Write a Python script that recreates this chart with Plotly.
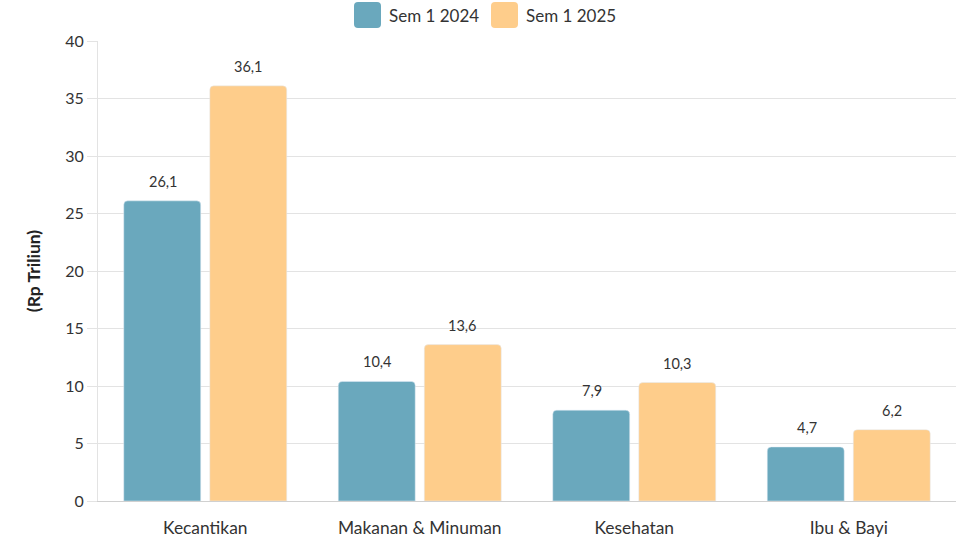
import plotly.graph_objects as go

categories = ["Kecantikan", "Makanan & Minuman", "Kesehatan", "Ibu & Bayi"]
sem2024 = [26.1, 10.4, 7.9, 4.7]
sem2025 = [36.1, 13.6, 10.3, 6.2]
series_names = ["Sem 1 2024", "Sem 1 2025"]
y_ticks = [0, 5, 10, 15, 20, 25, 30, 35, 40]

FONT = "Lato"
colors = ["#6aa8bd", "#fecd8b"]
W, H = 968, 543
ML, MR, MT, MB = 98, 12, 41, 42
PW, PH = W - ML - MR, H - MT - MB

def fmt(v):
    return f"{v:.1f}".replace(".", ",")

def px_x(px):
    return (px - ML) / PW

def px_y(py):
    return (H - MB - py) / PH

fig = go.Figure()
for name, vals, col in zip(series_names, [sem2024, sem2025], colors):
    fig.add_trace(go.Bar(
        x=categories, y=vals, name=name, marker_color=col,
        showlegend=False,
    ))

# value labels above bars
for vals, shift in zip([sem2024, sem2025], [-42, 43]):
    for c, v in zip(categories, vals):
        fig.add_annotation(x=c, y=v, xref="x", yref="y", text=fmt(v),
                           showarrow=False, xshift=shift, yanchor="bottom", yshift=9,
                           font=dict(size=14.5, color="#333333", family=FONT))

# custom legend with large rounded swatches
def rounded_rect(x0, y0, x1, y1, r):
    X = lambda p: px_x(p)
    Y = lambda p: px_y(p)
    return (f"M {X(x0+r)},{Y(y0)} L {X(x1-r)},{Y(y0)} Q {X(x1)},{Y(y0)} {X(x1)},{Y(y0+r)} "
            f"L {X(x1)},{Y(y1-r)} Q {X(x1)},{Y(y1)} {X(x1-r)},{Y(y1)} "
            f"L {X(x0+r)},{Y(y1)} Q {X(x0)},{Y(y1)} {X(x0)},{Y(y1-r)} "
            f"L {X(x0)},{Y(y0+r)} Q {X(x0)},{Y(y0)} {X(x0+r)},{Y(y0)} Z")

legend_x = [354, 491]
for name, col, lx in zip(series_names, colors, legend_x):
    fig.add_shape(type="path", path=rounded_rect(lx, 2, lx + 27, 28, 4), xref="paper", yref="paper",
                  fillcolor=col, line=dict(width=0))
    fig.add_annotation(x=px_x(lx + 33), y=px_y(15), xref="paper", yref="paper", text=name,
                       showarrow=False, xanchor="left", yanchor="middle",
                       font=dict(size=17, color="#333333", family=FONT))

fig.update_layout(
    width=W, height=H,
    margin=dict(l=ML, r=MR, t=MT, b=MB, autoexpand=False),
    plot_bgcolor="white", paper_bgcolor="white",
    font=dict(family=FONT, size=16, color="#333333"),
    barmode="group", bargap=0.198, bargroupgap=0.105,
    barcornerradius=4,
    showlegend=False,
    yaxis=dict(range=[0, 40], tickvals=y_ticks, showgrid=True, gridcolor="#e3e3e3",
               showline=True, linecolor="#e3e3e3", ticks="outside", ticklen=10,
               tickcolor="#e3e3e3", zeroline=False, tickfont=dict(size=16),
               title=dict(text="<b>(Rp Triliun)</b>", font=dict(size=17.5, color="#222222"), standoff=20)),
    xaxis=dict(showline=True, linecolor="#d0d0d0", ticks="", tickfont=dict(size=17.4),
               ticklabelstandoff=11),
)
fig.write_html("out.html")
